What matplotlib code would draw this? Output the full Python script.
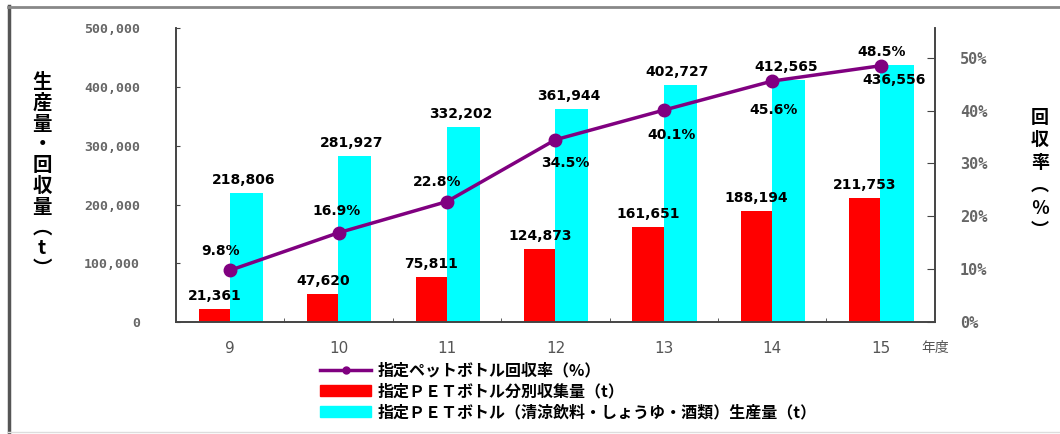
import matplotlib.pyplot as plt
from matplotlib.lines import Line2D
from matplotlib.patches import Patch
from matplotlib.ticker import FuncFormatter

plt.rcParams['font.family'] = ['DejaVu Sans', 'Noto Sans CJK JP']

# 平成9〜15年度
years = ['9', '10', '11', '12', '13', '14', '15']
production = [218806, 281927, 332202, 361944, 402727, 412565, 436556]
collected = [21361, 47620, 75811, 124873, 161651, 188194, 211753]
rate = [9.8, 16.9, 22.8, 34.5, 40.1, 45.6, 48.5]

legend_labels = ['指定ペットボトル回収率（%）',
                 '指定ＰＥＴボトル分別収集量（t）',
                 '指定ＰＥＴボトル（清涼飲料・しょうゆ・酒類）生産量（t）']

fig = plt.figure(figsize=(10.6, 4.34), dpi=100)
ax = fig.add_axes([0.166, 0.258, 0.716, 0.677])
ax2 = ax.twinx()

x = list(range(len(years)))
ax.bar([i - 0.145 for i in x], collected, width=0.29, color='#ff0000', zorder=2)
ax.bar([i + 0.15 for i in x], production, width=0.305, color='#00ffff', zorder=2)

ax.set_xlim(-0.5, len(years) - 0.5)
ax.set_ylim(0, 500000)
ax.set_xticks(x)
ax.set_xticklabels(years, color='#555555', fontsize=11)
ax.tick_params(axis='x', which='major', length=0, pad=14)
ax.set_xticks([i + 0.5 for i in x[:-1]], minor=True)
ax.tick_params(axis='x', which='minor', direction='in', length=3, color='#444444')
ax.set_yticks(range(0, 500001, 100000))
ax.yaxis.set_major_formatter(FuncFormatter(lambda v, p: f'{int(v):,}'))
ax.tick_params(axis='y', direction='in', length=3, colors='#444444',
               labelcolor='#666666', labelsize=9.5, pad=26)
for lbl in ax.get_yticklabels():
    lbl.set_family('DejaVu Sans Mono')
    lbl.set_fontweight('bold')

ax2.plot(x, rate, color='#800080', lw=2.5, marker='o', markersize=9, zorder=3)
ax2.set_ylim(0, 55.6)
ax2.set_yticks(range(0, 51, 10))
ax2.yaxis.set_major_formatter(FuncFormatter(lambda v, p: f'{int(v)}%'))
ax2.tick_params(axis='y', direction='in', length=6, colors='#444444',
                labelcolor='#666666', labelsize=11, pad=18)
for lbl in ax2.get_yticklabels():
    lbl.set_family('DejaVu Sans Mono')
    lbl.set_fontweight('bold')

for a in (ax, ax2):
    a.spines['top'].set_visible(False)
    for s in ('left', 'right', 'bottom'):
        a.spines[s].set_color('#444444')
        a.spines[s].set_linewidth(1.2)

lab_kw = dict(textcoords='offset points', ha='center', va='center',
              fontsize=10, fontweight='bold', color='black')

# 生産量・分別収集量のラベル
for i, v in enumerate(production):
    dy = -15 if i == len(years) - 1 else 13
    ax.annotate(f'{v:,}', (i + 0.15, v), xytext=(-2, dy * 0.72), **lab_kw)
for i, v in enumerate(collected):
    ax.annotate(f'{v:,}', (i - 0.145, v), xytext=(0, 13 * 0.72), **lab_kw)

# 回収率のラベル位置（px）
rate_offsets = [(-10, 19), (-2, 22), (-10, 20), (10, -23), (8, -25), (1, -29), (1, 14)]
for i, v in enumerate(rate):
    dx, dy = rate_offsets[i]
    ax2.annotate(f'{v}%', (i, v), xytext=(dx * 0.72, dy * 0.72), **lab_kw)

fig.text(42 / 1060, 1 - 176 / 434, '生\n産\n量\n・\n回\n収\n量\n︵\nt\n︶',
         ha='center', va='center', fontsize=14, fontweight='bold',
         linespacing=1.12, family=['Noto Sans CJK JP', 'DejaVu Sans'])
fig.text(1040 / 1060, 1 - 174 / 434, '回\n収\n率\n︵\n％\n︶',
         ha='center', va='center', fontsize=13, fontweight='bold',
         linespacing=1.25, family=['Noto Sans CJK JP', 'DejaVu Sans'])
fig.text(935 / 1060, 1 - 348 / 434, '年度', ha='center', va='center',
         fontsize=10, color='#555555', family=['Noto Sans CJK JP', 'DejaVu Sans'])

handles = [Line2D([], [], color='#800080', lw=2.5, marker='o', markersize=5),
           Patch(color='#ff0000'), Patch(color='#00ffff')]
fig.legend(handles, legend_labels, loc='upper left',
           bbox_to_anchor=(306 / 1060, 1 - 348 / 434), frameon=False,
           handlelength=3.2, handletextpad=0.4, labelspacing=0.3,
           prop={'family': ['Noto Sans CJK JP', 'DejaVu Sans'],
                 'size': 11.5, 'weight': 'bold'})

# 外枠
fig.add_artist(Line2D([8.5 / 1060, 8.5 / 1060], [0, 1 - 6 / 434],
                      transform=fig.transFigure, color='#555555', lw=2.5))
fig.add_artist(Line2D([8 / 1060, 1], [1 - 7 / 434, 1 - 7 / 434],
                      transform=fig.transFigure, color='#888888', lw=2))
fig.add_artist(Line2D([8 / 1060, 1], [1 - 432 / 434, 1 - 432 / 434],
                      transform=fig.transFigure, color='#dddddd', lw=1))

fig.savefig('out.png', dpi=100)
